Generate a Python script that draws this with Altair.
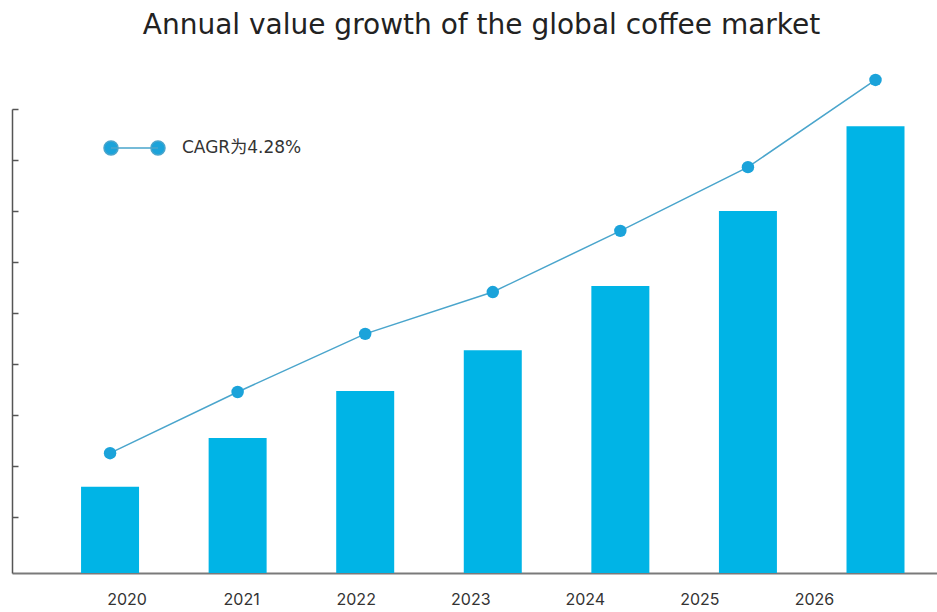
import altair as alt
import pandas as pd

years = [2020, 2021, 2022, 2023, 2024, 2025, 2026]
bar_values = [1.69, 2.65, 3.57, 4.37, 5.63, 7.10, 8.76]
line_values = [2.35, 3.55, 4.69, 5.51, 6.71, 7.96, 9.67]
series_name = "CAGR为4.28%"
title_text = "Annual value growth of the global coffee market"
y_ticks = [1.1, 2.1, 3.1, 4.1, 5.1, 6.1, 7.1, 8.1, 9.1]

df = pd.DataFrame({
    "year": years,
    "bar": bar_values,
    "line": line_values,
    "series": [series_name] * len(years),
})

BAR_COLOR = "#00b4e6"
DOT_COLOR = "#1ba3da"
LINE_COLOR = "#4aa5cc"
AXIS_COLOR = "#555555"

xscale = alt.Scale(paddingInner=0.5454, paddingOuter=0.398, align=0.68)
yscale = alt.Scale(domain=[0, 9.1], nice=False, zero=True)

x_enc = alt.X(
    "year:O",
    scale=xscale,
    title=None,
    axis=alt.Axis(
        ticks=False,
        domainColor="#7a7a7a",
        domainWidth=2,
        labelAngle=0,
        labelFont="Inter",
        labelFontSize=16,
        labelColor="#333333",
        labelPadding=18,
        labelOffset=alt.ExprRef("17 - 13 * (toNumber(datum.value) - 2020)"),
    ),
)

y_axis = alt.Axis(
    values=y_ticks,
    labels=False,
    title=None,
    grid=False,
    domainColor=AXIS_COLOR,
    domainWidth=1.5,
    tickColor=AXIS_COLOR,
    tickWidth=1.5,
    tickSize=alt.ExprRef("-6"),
)

base = alt.Chart(df)

bars = base.mark_bar(color=BAR_COLOR).encode(
    x=x_enc,
    y=alt.Y("bar:Q", scale=yscale, axis=y_axis),
)

line = base.mark_line(color=LINE_COLOR, strokeWidth=1.5).encode(
    x=alt.X("year:O", scale=xscale),
    y=alt.Y("line:Q", scale=yscale),
)

legend_path = (
    "M-0.77,0L0.77,0"
    "M-1,0a0.23,0.23 0 1,0 0.46,0a0.23,0.23 0 1,0 -0.46,0"
    "M0.54,0a0.23,0.23 0 1,0 0.46,0a0.23,0.23 0 1,0 -0.46,0"
)

points = base.mark_circle(size=155, opacity=1).encode(
    x=alt.X("year:O", scale=xscale),
    y=alt.Y("line:Q", scale=yscale),
    color=alt.Color(
        "series:N",
        scale=alt.Scale(range=[DOT_COLOR]),
        legend=alt.Legend(
            title=None,
            orient="none",
            legendX=91,
            legendY=7.5,
            padding=0,
            symbolType=legend_path,
            symbolSize=3721,
            symbolFillColor=DOT_COLOR,
            symbolStrokeColor=LINE_COLOR,
            symbolStrokeWidth=1.5,
            symbolOpacity=1,
            labelOffset=16,
            labelFont="DejaVu Sans, Noto Sans CJK SC",
            labelFontSize=17,
            labelColor="#333333",
        ),
    ),
)

chart = (
    alt.layer(bars, line, points)
    .properties(
        width=925,
        height=464,
        padding={"left": 12, "top": 109, "right": 0, "bottom": 39},
        autosize=alt.AutoSizeParams(type="none"),
        title=alt.TitleParams(
            title_text,
            font="DejaVu Sans",
            fontSize=28,
            fontWeight="normal",
            color="#222222",
            anchor="middle",
            dx=7,
            offset=34,
        ),
    )
    .configure_view(stroke=None)
)

chart.save("out.html", embed_options={"renderer": "svg", "actions": False})
